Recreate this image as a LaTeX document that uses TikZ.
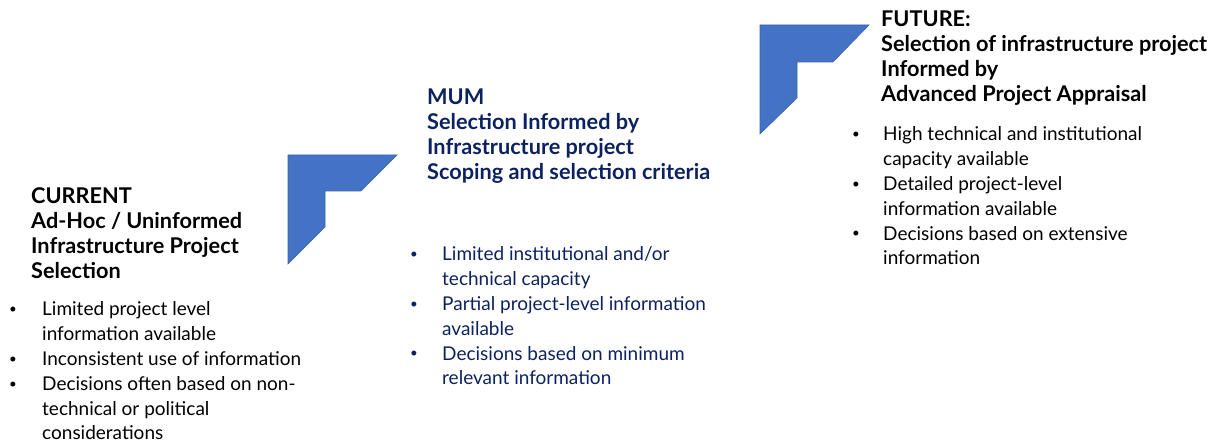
\documentclass[tikz,border=0pt]{standalone}
\usepackage{fontspec}
\setmainfont{Lato}
\definecolor{chevblue}{HTML}{4472C4}
\definecolor{chevedge}{HTML}{3A63AE}
\definecolor{navy}{HTML}{0C2260}
\newcommand{\bul}[1]{\llap{\makebox[#1][l]{\raisebox{0.12em}{\scalebox{0.7}{\textbullet}}}}}
\tikzset{
  chev/.style={fill=chevblue, draw=chevedge, line width=0.6pt, line join=miter},
  ttl/.style={anchor=base west, inner sep=0pt, align=left, font=\fontsize{21.7}{25.3}\selectfont\bfseries},
  blt/.style={anchor=base west, inner sep=0pt, align=left, font=\fontsize{19}{24.8}\selectfont},
}
\begin{document}
\begin{tikzpicture}[x=1pt,y=-1pt]
\useasboundingbox (0,0) rectangle (1219,443);
% chevron shapes
\draw[chev] (288,155) -- (397,155) -- (361,191) -- (325,191) -- (325,227) -- (288,264) -- cycle;
\draw[chev] (760,25) -- (869,25) -- (833,62) -- (797,62) -- (797,98) -- (760,134) -- cycle;
% CURRENT
\node[ttl] (curT) at (31,279) {CURRENT\\Ad-Hoc / Uninformed\\Infrastructure Project\\Selection};
\node[blt] (curB) at (42,440) {\bul{33pt}Limited project level\\information available\\\bul{33pt}Inconsistent use of information\\\bul{33pt}Decisions often based on non-\\technical or political\\considerations};
% MUM
\node[ttl, text=navy] (mumT) at (427,180) {MUM\\Selection Informed by\\Infrastructure project\\Scoping and selection criteria};
\node[blt, text=navy] (mumB) at (442,385) {\bul{32pt}Limited institutional and/or\\technical capacity\\\bul{32pt}Partial project-level information\\available\\\bul{32pt}Decisions based on minimum\\relevant information};
% FUTURE
\node[ttl] (futT) at (881,102) {FUTURE:\\Selection of infrastructure project\\Informed by\\Advanced Project Appraisal};
\node[blt] (futB) at (883,265) {\bul{31pt}High technical and institutional\\capacity available\\\bul{31pt}Detailed project-level\\information available\\\bul{31pt}Decisions based on extensive\\information};
\end{tikzpicture}
\end{document}
